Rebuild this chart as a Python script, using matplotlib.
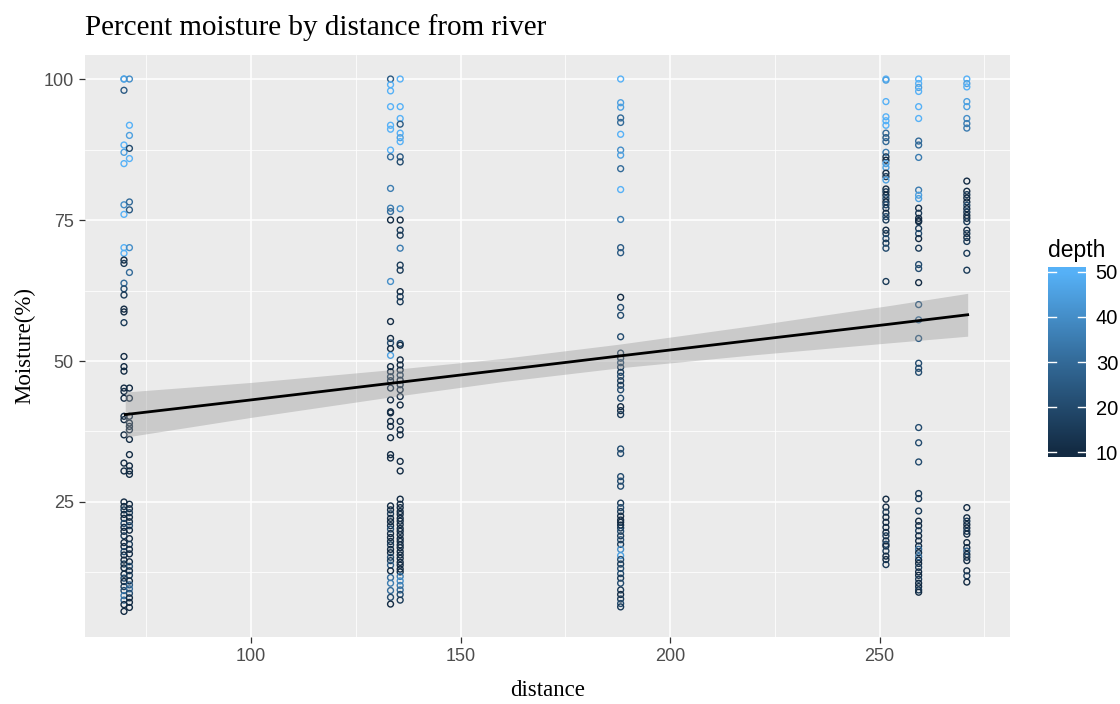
import numpy as np
import matplotlib
matplotlib.use("Agg")
import matplotlib.pyplot as plt
from matplotlib.colors import LinearSegmentedColormap, Normalize

# ---------------- data ----------------
# site at ~70 m : two sub-columns
dist_70a = 69.7
moist_70a = [100, 100, 98.0, 88.3, 87.0, 85.0, 77.7, 76.0, 70.1, 69.1, 67.9, 67.3, 63.8, 62.8, 61.7,
             59.2, 58.7, 56.8, 50.8, 49.0, 48.2, 45.2, 44.6, 43.4, 40.2, 39.6, 36.9, 31.9, 30.5,
             25.0, 24.2, 23.6, 22.8, 22.1, 21.2, 20.5, 19.8, 19.0, 17.8, 17.1, 16.2, 15.6, 14.7,
             14.0, 13.3, 12.2, 11.5, 10.9, 10.0, 9.3, 8.4, 7.6, 6.8, 5.6]
depth_70a = [50, 45, 25, 50, 45, 50, 40, 50, 50, 50, 10, 15, 30, 20, 15,
             10, 10, 15, 10, 10, 10, 10, 10, 10, 10, 10, 10, 10, 10,
             10, 10, 15, 10, 10, 20, 10, 10, 15, 10, 10, 20, 10, 10,
             15, 10, 10, 20, 10, 15, 20, 35, 30, 10, 10]
dist_70b = 71.0
moist_70b = [100, 91.8, 90.0, 87.7, 85.9, 78.2, 76.8, 70.1, 65.7, 45.2, 43.4, 40.2, 39.0, 38.4, 37.8,
             36.1, 33.4, 31.4, 30.5, 29.9, 24.6, 23.8, 23.1, 22.3, 21.5, 20.8, 20.0, 18.5, 17.5,
             16.6, 15.8, 14.4, 13.6, 12.8, 12.0, 11.0, 10.3, 9.6, 8.8, 8.0, 7.2, 6.3]
depth_70b = [40, 50, 45, 20, 50, 30, 25, 40, 30, 10, 10, 10, 10, 10, 10,
             10, 10, 10, 10, 10, 10, 10, 15, 10, 10, 20, 10, 10, 15,
             10, 10, 10, 20, 10, 15, 10, 25, 30, 20, 10, 10, 10]

# site at ~134 m : two sub-columns
dist_134a = 133.3
moist_134a = [100, 99.0, 97.9, 95.1, 91.8, 91.1, 87.4, 86.2, 80.6, 77.1, 76.5, 75.0, 64.1, 57.0,
              54.0, 53.2, 52.2, 51.0, 49.0, 48.1, 47.2, 46.5, 45.2, 43.1, 41.0, 40.8, 39.3, 38.4,
              36.4, 33.4, 32.8, 24.3, 23.6, 22.9, 22.1, 21.5, 20.8, 20.2, 19.4, 18.7, 18.0, 17.4,
              16.6, 16.0, 15.2, 14.6, 13.8, 12.8, 11.6, 10.6, 9.3, 8.1, 6.9]
depth_134a = [25, 50, 50, 50, 50, 50, 50, 30, 35, 35, 30, 10, 40, 10,
              10, 20, 10, 45, 10, 10, 15, 10, 10, 10, 10, 10, 10, 10,
              10, 10, 10, 10, 10, 15, 10, 10, 10, 20, 10, 10, 10, 15,
              10, 10, 20, 15, 25, 10, 30, 35, 30, 20, 10]
dist_134b = 135.6
moist_134b = [100, 95.1, 93.0, 92.0, 90.4, 89.6, 88.9, 86.2, 85.3, 77.0, 75.0, 73.2, 72.3, 70.0,
              67.0, 66.1, 62.3, 61.4, 60.5, 53.1, 52.8, 50.2, 49.3, 48.4, 47.5, 46.6, 45.8, 44.9,
              43.7, 42.2, 39.3, 37.8, 36.9, 32.2, 30.5, 25.5, 24.6, 24.0, 23.3, 22.8, 22.1, 21.6,
              21.0, 20.3, 19.8, 19.2, 18.5, 18.0, 17.4, 16.9, 16.2, 15.6, 15.0, 14.3, 13.8, 13.1,
              12.6, 11.8, 11.0, 10.2, 9.4, 8.6, 7.6]
depth_134b = [50, 50, 50, 25, 50, 45, 50, 25, 20, 40, 10, 15, 15, 35,
              15, 15, 10, 15, 15, 20, 10, 10, 10, 10, 15, 10, 10, 10,
              10, 10, 10, 10, 10, 10, 10, 10, 10, 10, 10, 10, 10, 10,
              10, 10, 10, 10, 10, 10, 10, 10, 10, 10, 10, 10, 10, 10,
              10, 35, 40, 35, 30, 20, 15]

# site at ~188 m
dist_188 = 188.2
moist_188 = [100, 95.8, 95.0, 93.1, 92.3, 90.2, 87.4, 86.5, 84.1, 80.4, 75.1, 70.1, 69.2, 61.3,
             59.5, 58.1, 54.3, 51.4, 50.5, 49.7, 48.9, 48.0, 47.3, 46.5, 45.7, 44.9, 43.4, 41.9,
             41.2, 40.5, 34.4, 33.6, 29.5, 28.7, 27.8, 24.8, 24.0, 23.3, 22.5, 21.8, 21.4, 20.9,
             20.4, 19.8, 19.0, 18.3, 17.5, 16.6, 15.5, 14.8, 14.0, 13.2, 12.3, 11.5, 10.6, 9.4,
             8.6, 7.8, 7.0, 6.4]
depth_188 = [50, 45, 45, 30, 30, 50, 40, 45, 30, 50, 35, 25, 25, 10,
             20, 20, 20, 15, 15, 20, 15, 15, 20, 15, 15, 20, 20, 10,
             10, 15, 20, 20, 20, 20, 20, 15, 20, 15, 10, 10, 10, 10,
             15, 20, 15, 20, 15, 40, 45, 20, 15, 20, 20, 15, 20, 15,
             10, 15, 20, 15]

# site at ~252 m
dist_252 = 251.5
moist_252 = [100, 99.8, 96.0, 93.3, 92.6, 91.8, 90.4, 89.6, 88.9, 87.0, 86.2, 85.6, 85.0, 84.3,
             83.3, 82.7, 82.1, 80.5, 80.0, 79.4, 78.8, 78.2, 77.7, 77.1, 76.2, 75.6, 75.0, 73.2,
             72.6, 71.7, 70.9, 70.0, 64.1, 25.5, 24.1, 23.2, 22.3, 21.4, 20.5, 19.6, 19.0, 18.1,
             17.5, 17.2, 16.3, 15.4, 14.8, 13.9]
depth_252 = [50, 45, 50, 50, 50, 50, 30, 25, 30, 35, 15, 10, 45, 45,
             10, 15, 45, 10, 15, 10, 20, 10, 20, 15, 10, 20, 15, 10,
             15, 20, 15, 20, 15, 10, 10, 15, 10, 10, 10, 10, 15, 10,
             20, 10, 15, 10, 10, 15]

# site at ~259 m
dist_259 = 259.3
moist_259 = [100, 99.2, 98.5, 97.8, 95.1, 93.0, 89.0, 88.3, 86.1, 80.3, 79.4, 78.8, 77.1, 76.2,
             75.3, 74.9, 74.7, 73.5, 72.6, 71.7, 70.0, 67.1, 66.4, 63.9, 60.0, 57.3, 54.0, 49.6,
             48.7, 48.0, 38.2, 35.5, 32.1, 26.5, 25.6, 23.4, 21.6, 20.8, 19.9, 19.0, 18.1, 17.2,
             16.6, 16.0, 15.3, 14.7, 14.1, 13.4, 12.6, 12.0, 11.3, 10.6, 10.0, 9.4, 9.0]
depth_259 = [50, 50, 45, 50, 50, 50, 30, 30, 35, 35, 45, 45, 10, 15,
             10, 10, 10, 15, 20, 10, 15, 20, 20, 10, 25, 30, 25, 20,
             20, 20, 20, 20, 20, 15, 15, 15, 10, 10, 15, 10, 10, 10,
             30, 10, 30, 10, 10, 15, 10, 10, 15, 10, 10, 15, 10]

# site at ~271 m
dist_271 = 270.8
moist_271 = [100, 99.2, 98.6, 96.0, 95.1, 93.0, 92.1, 91.3, 81.9, 80.1, 79.5, 78.9, 78.2, 77.6,
             77.0, 76.4, 75.8, 75.3, 74.7, 73.2, 72.6, 71.9, 71.2, 69.1, 66.1, 24.0, 22.2, 21.6,
             21.0, 20.4, 19.8, 19.3, 17.8, 16.9, 16.3, 15.7, 15.2, 14.6, 12.8, 11.9, 10.8]
depth_271 = [50, 45, 50, 45, 45, 40, 35, 35, 10, 10, 15, 10, 10, 20,
             10, 15, 10, 10, 15, 10, 15, 10, 15, 15, 15, 10, 10, 15,
             10, 10, 15, 10, 10, 10, 25, 10, 15, 10, 10, 15, 10]

# linear smoother
fit_x = [70, 100, 134, 160, 188, 220, 252, 271]
fit_y = [40.5, 43.1, 46.1, 48.4, 50.9, 53.7, 56.5, 58.2]
fit_lo = [36.5, 40.0, 43.7, 46.35, 48.8, 51.1, 53.2, 54.4]
fit_hi = [44.5, 46.2, 48.5, 50.45, 53.0, 56.3, 59.8, 62.0]

x_ticks = [100, 150, 200, 250]
y_ticks = [25, 50, 75, 100]
depth_ticks = [10, 20, 30, 40, 50]

title_text = "Percent moisture by distance from river"
x_label = "distance"
y_label = "Moisture(%)"
legend_title = "depth"

# ---------------- assemble ----------------
groups = [(dist_70a, moist_70a, depth_70a), (dist_70b, moist_70b, depth_70b),
          (dist_134a, moist_134a, depth_134a), (dist_134b, moist_134b, depth_134b),
          (dist_188, moist_188, depth_188), (dist_252, moist_252, depth_252),
          (dist_259, moist_259, depth_259), (dist_271, moist_271, depth_271)]
xs, ys, ds = [], [], []
for d, m, dep in groups:
    assert len(m) == len(dep)
    xs += [d] * len(m)
    ys += list(m)
    ds += list(dep)
xs, ys, ds = np.array(xs), np.array(ys), np.array(ds)

cmap = LinearSegmentedColormap.from_list("gg", ["#132B43", "#336A98", "#56B1F7"])
norm = Normalize(vmin=10, vmax=50)

W, H = 1120, 704
fig = plt.figure(figsize=(W / 100, H / 100), dpi=100)
fig.patch.set_facecolor("white")

ax = fig.add_axes([85 / W, (H - 637) / H, 925 / W, 582 / H])
ax.set_facecolor("#EBEBEB")
for s in ax.spines.values():
    s.set_visible(False)
ax.set_xlim(60.4, 281.1)
ax.set_ylim(1.06, 104.26)
ax.set_xticks(x_ticks)
ax.set_yticks(y_ticks)
ax.set_xticks([75, 125, 175, 225, 275], minor=True)
ax.set_yticks([12.5, 37.5, 62.5, 87.5], minor=True)
ax.grid(which="major", color="white", linewidth=1.1)
ax.grid(which="minor", color="white", linewidth=0.55)
ax.set_axisbelow(True)
ax.tick_params(which="major", length=4, width=0.9, color="#333333", labelcolor="#4D4D4D",
               labelsize=13, pad=4)
ax.tick_params(which="minor", length=0)
for lab in ax.get_xticklabels() + ax.get_yticklabels():
    lab.set_family("Liberation Sans")

ax.scatter(xs, ys, s=18, facecolors="none", edgecolors=cmap(norm(ds)), linewidths=1.0, zorder=3)

ax.fill_between(fit_x, fit_lo, fit_hi, color="#999999", alpha=0.4, linewidth=0, zorder=4)
ax.plot(fit_x, fit_y, color="black", linewidth=2.0, zorder=5)

fig.text(85 / W, 1 - 28 / H, title_text, family="Liberation Serif", fontsize=21,
         ha="left", va="center", color="black")
ax.set_xlabel(x_label, family="Liberation Serif", fontsize=16.5, labelpad=11)
ax.set_ylabel(y_label, family="Liberation Serif", fontsize=16.5, labelpad=6)

# colourbar legend
cax = fig.add_axes([1048 / W, (H - 457) / H, 38 / W, 190 / H])
grad = np.linspace(8.9, 51.1, 300).reshape(-1, 1)
cax.imshow(grad, aspect="auto", cmap=cmap, norm=norm, origin="lower",
           extent=[0, 1, 8.9, 51.1])
cax.set_xlim(0, 1)
cax.set_ylim(8.9, 51.1)
cax.set_xticks([])
cax.set_yticks(depth_ticks)
cax.yaxis.tick_right()
cax.tick_params(axis="y", length=0, pad=7, labelsize=14.5, labelcolor="black")
for lab in cax.get_yticklabels():
    lab.set_family("Liberation Sans")
for s in cax.spines.values():
    s.set_visible(False)
for t in depth_ticks:
    cax.plot([0, 0.2], [t, t], color="white", linewidth=1.0)
    cax.plot([0.8, 1.0], [t, t], color="white", linewidth=1.0)
fig.text(1048 / W, 1 - 250 / H, legend_title, family="Liberation Sans", fontsize=16.5,
         ha="left", va="center", color="black")

fig.savefig("out.png", dpi=100)
